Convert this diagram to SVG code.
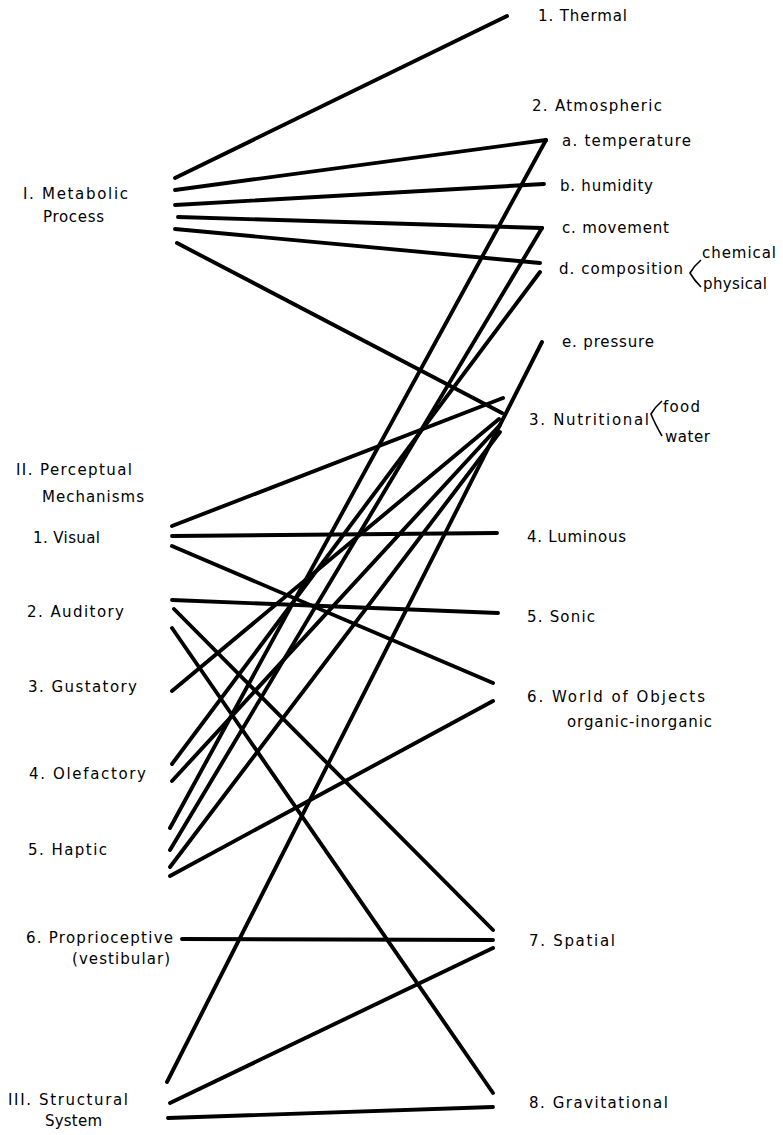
<svg xmlns="http://www.w3.org/2000/svg" width="783" height="1135" viewBox="0 0 783 1135">
<style>
text{font-family:"DejaVu Sans","Liberation Sans",sans-serif;font-size:15px;fill:#000}
.c line{stroke:#000;stroke-width:3.9;stroke-linecap:round}
.br{fill:none;stroke:#000;stroke-width:1.6}
</style>
<rect width="783" height="1135" fill="#fff"/>
<g class="c" id="connectors">
<line x1="175" y1="178" x2="507" y2="16"/>
<line x1="175" y1="190" x2="546" y2="140"/>
<line x1="175" y1="205" x2="544" y2="184"/>
<line x1="178" y1="217" x2="542" y2="228"/>
<line x1="175" y1="229" x2="540" y2="263"/>
<line x1="177" y1="243" x2="502" y2="413"/>
<line x1="172" y1="526" x2="503" y2="398"/>
<line x1="172" y1="536" x2="497" y2="533"/>
<line x1="172" y1="546" x2="493" y2="683"/>
<line x1="172" y1="600" x2="498" y2="613"/>
<line x1="174" y1="609" x2="493" y2="930"/>
<line x1="172" y1="628" x2="493" y2="1093"/>
<line x1="172" y1="691" x2="499" y2="419"/>
<line x1="172" y1="764" x2="540" y2="272"/>
<line x1="172" y1="781" x2="500" y2="425"/>
<line x1="170" y1="828" x2="546" y2="140"/>
<line x1="170" y1="850" x2="542" y2="228"/>
<line x1="170" y1="867" x2="500" y2="432"/>
<line x1="170" y1="876" x2="493" y2="701"/>
<line x1="182" y1="939" x2="493" y2="940"/>
<line x1="167" y1="1082" x2="542" y2="342"/>
<line x1="170" y1="1103" x2="493" y2="948"/>
<line x1="168" y1="1118" x2="493" y2="1107"/>
</g>
<g id="metabolic"><text x="23" y="199" textLength="105" lengthAdjust="spacing">I. Metabolic</text><text x="43" y="222" textLength="61" lengthAdjust="spacing">Process</text></g>
<g id="perceptual"><text x="16" y="475" textLength="116" lengthAdjust="spacing">II. Perceptual</text><text x="42" y="502" textLength="102" lengthAdjust="spacing">Mechanisms</text></g>
<g id="visual"><text x="33" y="543" textLength="67" lengthAdjust="spacing">1. Visual</text></g>
<g id="auditory"><text x="27" y="617" textLength="97" lengthAdjust="spacing">2. Auditory</text></g>
<g id="gustatory"><text x="28" y="692" textLength="109" lengthAdjust="spacing">3.  Gustatory</text></g>
<g id="olefactory"><text x="29" y="779" textLength="117" lengthAdjust="spacing">4. Olefactory</text></g>
<g id="haptic"><text x="28" y="855" textLength="79" lengthAdjust="spacing">5. Haptic</text></g>
<g id="proprioceptive"><text x="26" y="943" textLength="147" lengthAdjust="spacing">6. Proprioceptive</text><text x="72" y="964" textLength="98" lengthAdjust="spacing">(vestibular)</text></g>
<g id="structural"><text x="8" y="1105" textLength="120" lengthAdjust="spacing">III. Structural</text><text x="45" y="1126" textLength="57" lengthAdjust="spacing">System</text></g>
<g id="thermal"><text x="538" y="21" textLength="89" lengthAdjust="spacing">1. Thermal</text></g>
<g id="atmospheric"><text x="532" y="111" textLength="130" lengthAdjust="spacing">2. Atmospheric</text></g>
<g id="temperature"><text x="562" y="146" textLength="129" lengthAdjust="spacing">a. temperature</text></g>
<g id="humidity"><text x="560" y="191" textLength="93" lengthAdjust="spacing">b. humidity</text></g>
<g id="movement"><text x="562" y="233" textLength="107" lengthAdjust="spacing">c. movement</text></g>
<g id="composition"><text x="559" y="274" textLength="124" lengthAdjust="spacing">d. composition</text>
<path class="br" d="M701,260 Q694,266 690,273 Q694,280 701,287"/>
<text x="702" y="258" textLength="74" lengthAdjust="spacing">chemical</text><text x="703" y="289" textLength="64" lengthAdjust="spacing">physical</text></g>
<g id="pressure"><text x="562" y="347" textLength="92" lengthAdjust="spacing">e. pressure</text></g>
<g id="nutritional"><text x="529" y="425" textLength="120" lengthAdjust="spacing">3. Nutritional</text>
<path class="br" d="M662,401 Q655,407 651,414 Q655,424 662,436"/>
<text x="663" y="412" textLength="37" lengthAdjust="spacing">food</text><text x="665" y="442" textLength="45" lengthAdjust="spacing">water</text></g>
<g id="luminous"><text x="527" y="542" textLength="99" lengthAdjust="spacing">4. Luminous</text></g>
<g id="sonic"><text x="527" y="622" textLength="68" lengthAdjust="spacing">5. Sonic</text></g>
<g id="objects"><text x="527" y="702" textLength="178" lengthAdjust="spacing">6. World of Objects</text><text x="567" y="727" textLength="145" lengthAdjust="spacing">organic-inorganic</text></g>
<g id="spatial"><text x="529" y="946" textLength="86" lengthAdjust="spacing">7. Spatial</text></g>
<g id="gravitational"><text x="529" y="1108" textLength="139" lengthAdjust="spacing">8. Gravitational</text></g>
</svg>
